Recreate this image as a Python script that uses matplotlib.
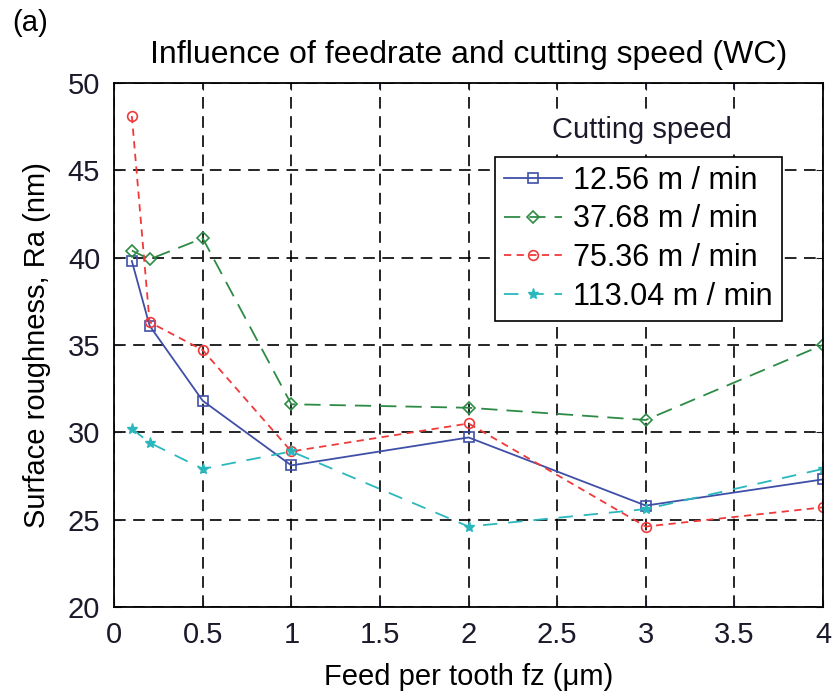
import numpy as np
import matplotlib
matplotlib.use("Agg")
import matplotlib.pyplot as plt

plt.rcParams['font.family'] = ['Liberation Sans', 'DejaVu Sans']

# feed per tooth (um)
feed = [0.1, 0.2, 0.5, 1, 2, 3, 4]

# surface roughness Ra (nm) for each cutting speed
ra_12 = [39.8, 36.1, 31.8, 28.1, 29.7, 25.8, 27.3]
ra_37 = [40.4, 39.9, 41.1, 31.6, 31.4, 30.7, 35.0]
ra_75 = [48.1, 36.3, 34.7, 28.9, 30.5, 24.6, 25.7]
ra_113 = [30.2, 29.4, 27.9, 28.9, 24.6, 25.6, 27.9]

labels = ['12.56 m / min', '37.68 m / min', '75.36 m / min', '113.04 m / min']
xticks = [0, 0.5, 1, 1.5, 2, 2.5, 3, 3.5, 4]
yticks = [20, 25, 30, 35, 40, 45, 50]

fig = plt.figure(figsize=(8.33, 6.96), dpi=100)
ax = fig.add_axes([0.137, 0.128, 0.851, 0.753])

ax.plot(feed, ra_12, color='#3f4fa8', ls='-', lw=1.3, marker='s', ms=7, mfc='none', mew=1.2, label=labels[0])
ax.plot(feed, ra_37, color='#2e8b45', ls=(0, (9, 5)), lw=1.3, marker='D', ms=6, mfc='none', mew=1.2, label=labels[1])
ax.plot(feed, ra_75, color='#f03a3a', ls=(0, (4, 3)), lw=1.3, marker='o', ms=7, mfc='none', mew=1.2, label=labels[2])
ax.plot(feed, ra_113, color='#2ab8bd', ls=(0, (8, 6)), lw=1.3, marker='*', ms=8, mew=1.0, label=labels[3])

ax.set_xlim(0, 4)
ax.set_ylim(20, 50)
ax.set_xticks(xticks)
ax.set_xticklabels(['0', '0.5', '1', '1.5', '2', '2.5', '3', '3.5', '4'])
ax.set_yticks(yticks)
ax.tick_params(direction='in', top=True, right=True, labelsize=21, length=5, pad=10, colors='#1a1a2a')
ax.grid(True, color='black', ls=(0, (7, 4.5)), lw=1.2)
for s in ax.spines.values():
    s.set_linewidth(1.3)

ax.set_xlabel('Feed per tooth fz (\u03bcm)', fontsize=21, labelpad=10)
ax.set_ylabel('Surface roughness, Ra (nm)', fontsize=21, labelpad=12)
ax.set_title('Influence of feedrate and cutting speed (WC)', fontsize=23, pad=14)
fig.text(0.015, 0.955, '(a)', fontsize=21)

leg = ax.legend(loc='upper right', bbox_to_anchor=(0.942, 0.859), fontsize=22,
                frameon=True, fancybox=False, edgecolor='black', framealpha=1,
                handlelength=1.9, handletextpad=0.35, borderpad=0.3, labelspacing=0.28,
                borderaxespad=0)
leg.get_frame().set_linewidth(1.2)
ax.text(0.745, 0.91, 'Cutting speed', transform=ax.transAxes, fontsize=21,
        ha='center', va='center', color='#1a1a2a', zorder=5,
        bbox=dict(facecolor='white', edgecolor='none', pad=4))

fig.savefig('out.png', dpi=100)
